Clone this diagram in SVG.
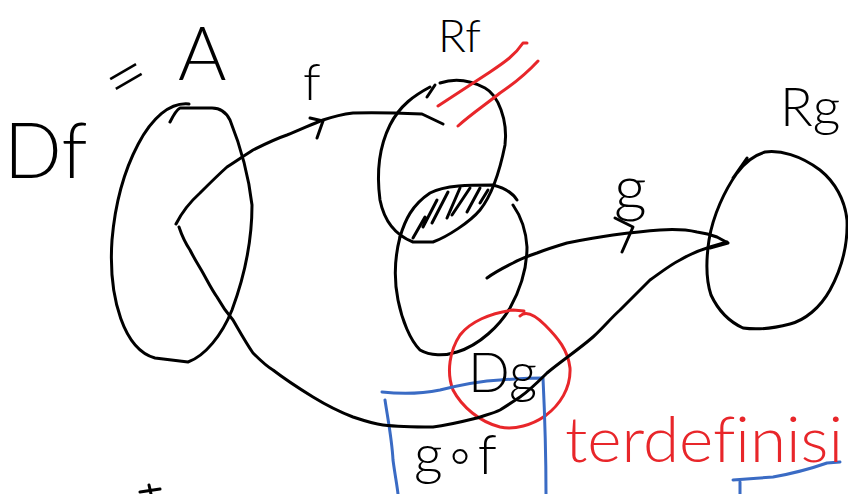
<svg xmlns="http://www.w3.org/2000/svg" width="848" height="494" viewBox="0 0 848 494">
<style>
.k{fill:none;stroke:#000;stroke-width:3;stroke-linecap:round;stroke-linejoin:round}
.r{fill:none;stroke:#e8262a;stroke-width:3;stroke-linecap:round;stroke-linejoin:round}
.b{fill:none;stroke:#3a6bc4;stroke-width:3;stroke-linecap:round;stroke-linejoin:round}
.t{font-family:"Lato","Liberation Sans","DejaVu Sans",sans-serif;font-weight:300;fill:#000;font-variant-ligatures:none}
</style>
<rect width="848" height="494" fill="#fff"/>
<g id="setA">
<path class="k" d="M189,104 C150,100 118,170 112,240 C108,300 125,350 155,358 L188,362 C205,356 222,335 232,310 C245,275 252,240 252,205 C248,170 238,140 230,120 C224,108 215,108 212,108 L180,108 C176,110 173,116 170,122"/>
</g>
<g id="Rf">
<path class="k" d="M427,97 L435,85 M430,87 C415,95 400,105 390,125 C380,145 376,170 380,200 C384,220 395,235 413,242 L433,242 C447,237 470,222 480,210 C492,195 500,170 505,145 C508,120 498,95 485,88 C470,80 455,78 440,83"/>
<path class="r" d="M438,106 C455,95 470,85 490,72 C505,62 515,55 523,43 L527,43"/>
<path class="r" d="M458,126 C470,115 485,105 500,93 C512,85 525,75 538,61"/>
</g>
<g id="Dg">
<path class="k" d="M400,237 C405,220 412,205 430,193 C445,185 470,185 493,185 C505,188 512,192 517,200"/>
<path class="k" d="M513,205 C520,215 526,230 527,247 C527,270 520,290 510,308 C500,325 480,345 457,352 C445,356 430,356 420,350 C410,340 402,320 398,300 C394,280 394,260 400,237"/>
<path class="k" d="M413,238 L425,217 M423,227 L437,200 M432,223 L448,192 M447,218 L460,188 M452,215 L470,188 M467,212 L480,188 M480,203 L488,190"/>
</g>
<g id="Rg">
<path class="k" d="M733,178 L747,158 M737,173 C745,162 755,155 765,152 C780,150 800,155 820,170 C835,182 845,200 847,220 C848,245 842,268 830,290 C820,308 805,320 790,324 C775,328 758,330 743,328 C730,322 718,310 711,295 C706,280 706,260 709,240 C713,215 725,190 737,173"/>
</g>
<g id="DgCircle">
<path class="r" d="M520,316 C526,310 535,315 545,325 C558,338 568,350 570,368 C571,388 560,405 545,416 C532,425 515,430 500,427 C480,422 462,407 453,390 C446,372 450,350 460,335 C470,322 490,313 513,310 L524,311"/>
</g>
<g id="gofBox">
<path class="b" d="M382,392 C400,394 420,394 440,390 C460,385 480,381 500,380 C515,379 530,378 543,378 C545,420 546,460 546,494"/>
<path class="b" d="M385,400 C388,420 392,440 393,460 C395,475 397,485 398,494"/>
<path class="b" d="M733,480 C745,479 760,478 773,477 C790,474 807,470 827,463 L840,462 M740,482 L740,494"/>
</g>
<g id="connectors">
<path class="k" d="M176,224 C182,212 190,202 200,193 C210,183 218,175 227,167 C238,160 245,155 253,150 C265,144 275,139 287,135 C300,130 312,124 323,120 C335,116 345,114 353,113 C375,112 400,113 422,114 L443,124"/>
<path class="k" d="M310,118 L323,121 L317,138"/>
<path class="k" d="M179,227 C182,236 186,244 190,250 C195,260 199,266 203,273 C208,282 212,290 217,297 C222,306 227,313 233,320 C240,332 246,343 253,353 C260,360 266,366 273,370 C286,380 300,389 313,397 C326,405 340,412 353,417 C365,421 375,424 383,425 C400,427 418,427 433,427 C450,425 465,421 477,418 C486,415 494,413 500,410 C508,405 514,401 520,397 C530,390 540,380 547,373 C560,362 578,350 593,337 C603,328 611,318 620,310 C630,300 640,290 650,280 C660,273 670,265 680,260 C690,254 700,250 710,247 L727,242"/>
<path class="k" d="M487,278 C495,272 505,267 513,263 C520,259 528,256 537,253 C547,249 557,246 567,243 C582,240 598,237 613,235 C628,233 645,231 660,230 C675,229 688,230 697,232 C705,233 712,235 717,237 L728,243 L710,248"/>
<path class="k" d="M615,218 L633,227 L622,252"/>
<path class="k" d="M140,492 L160,489 M149,485 L151,494"/>
</g>
<g id="labels">
<text class="t" x="4" y="178" font-size="76">Df</text>
<text class="t" x="106" y="100" font-size="72" transform="rotate(-30 128 78)">=</text>
<text class="t" x="178" y="80" font-size="74">A</text>
<text class="t" x="303" y="100" font-size="52">f</text>
<text class="t" x="438" y="52" font-size="46">Rf</text>
<text class="t" x="614" y="210" font-size="64">g</text>
<text class="t" x="780" y="126" font-size="54">Rg</text>
<text class="t" x="468" y="392" font-size="55">Dg</text>
<text class="t" x="414" y="474" font-size="56">g∘f</text>
<text class="t" x="565" y="462" font-size="64" style="fill:#e8262a" textLength="278" lengthAdjust="spacingAndGlyphs">terdefinisi</text>
</g>
</svg>
